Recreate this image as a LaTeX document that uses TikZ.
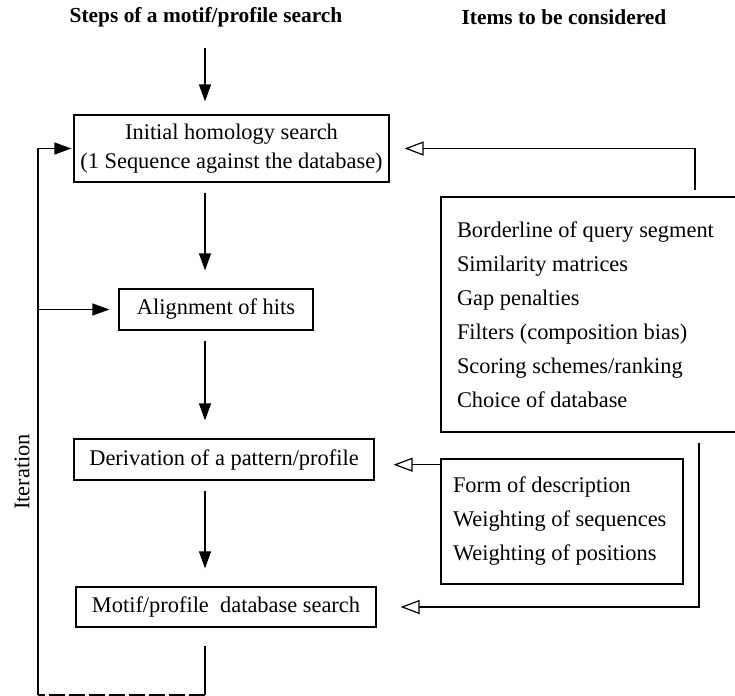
\documentclass[tikz,border=0pt]{standalone}
\usepackage{fontspec}
\setmainfont{Liberation Serif}
\usetikzlibrary{arrows.meta}

\begin{document}
\begin{tikzpicture}
  [x=.5pt,y=-.5pt,
   txt/.style={font=\fontsize{11.2}{14.5}\selectfont},
   head/.style={font=\bfseries\fontsize{10.7}{12}\selectfont},
   stepbox/.style={txt,draw,line width=.6pt,inner sep=0pt},
   itembox/.style={draw,line width=1.3pt,inner xsep=8pt,inner ysep=0pt,align=flush left,
     font=\fontsize{11.2}{17}\selectfont},
   fwd/.style={line width=.6pt,-{Triangle[length=8.5pt,width=6pt]}},
   back/.style={line width=.6pt,-{Triangle[open,length=9.5pt,width=7pt]}}]
  \useasboundingbox (0,0) rectangle (735,696);
  % headings
  \node[head] (h1) at (206,17) {Steps of a motif/profile search};
  \node[head] (h2) at (564,17) {Items to be considered};
  % steps
  \node[stepbox,align=center,minimum width=157.5pt,minimum height=33.5pt] (init) at (231.5,148.5)
    {Initial homology search\\(1 Sequence against the database)};
  \node[stepbox,minimum width=97pt,minimum height=20.5pt] (align) at (216,309.5) {Alignment of hits};
  \node[stepbox,minimum width=150pt,minimum height=20.5pt] (deriv) at (224,459.5) {Derivation of a pattern/profile};
  \node[stepbox,minimum width=150pt,minimum height=20pt] (motif) at (226,607) {Motif/profile\ \ database search};
  % items
  \node[itembox,text width=136pt,minimum height=117.5pt] (items) at (593,314.5)
    {Borderline of query segment\\Similarity matrices\\Gap penalties\\Filters (composition bias)\\Scoring schemes/ranking\\Choice of database};
  \node[itembox,inner xsep=6pt,text width=109pt,minimum height=62.5pt] (weight) at (562,521.5)
    {Form of description\\Weighting of sequences\\Weighting of positions};
  \node[txt,rotate=90] (iter) at (22,472) {Iteration};
  % helper points
  \coordinate (col) at (205,0);
  \coordinate (top) at (205,48);
  \coordinate (lowR) at (205,695);
  \coordinate (lowL) at (38,695);
  \coordinate (topR) at (695,190);
  \coordinate (midR) at (699,443);
  \coordinate (wIn) at ([yshift=-3.5pt]weight.north west);
  \begin{scope}[fwd]
    \draw[shorten >=6.5pt] (top) -- (init.north -| col);
    \foreach \from/\to in {init/align,align/deriv,deriv/motif}
      \draw[shorten <=5pt,shorten >=9pt] (\from.south -| col) -- (\to.north -| col);
    \draw[shorten >=1pt] (lowL) -- (lowL |- init.west) -- (init.west);
    \draw[shorten >=4.5pt] (lowL |- align.west) -- (align.west);
  \end{scope}
  \draw[line width=.6pt,shorten <=9pt] (motif.south -| col) -- (lowR);
  \draw[line width=.6pt,dashed,dash pattern=on 8pt off 2pt] (lowR) -- (lowL);
  \begin{scope}[back]
    \draw[shorten >=7.5pt] (topR) |- (init.east);
    \draw[shorten >=9.5pt] (wIn) -- (wIn -| deriv.east);
    \draw[shorten >=12pt] (midR) |- (motif.east);
  \end{scope}
\end{tikzpicture}
\end{document}
